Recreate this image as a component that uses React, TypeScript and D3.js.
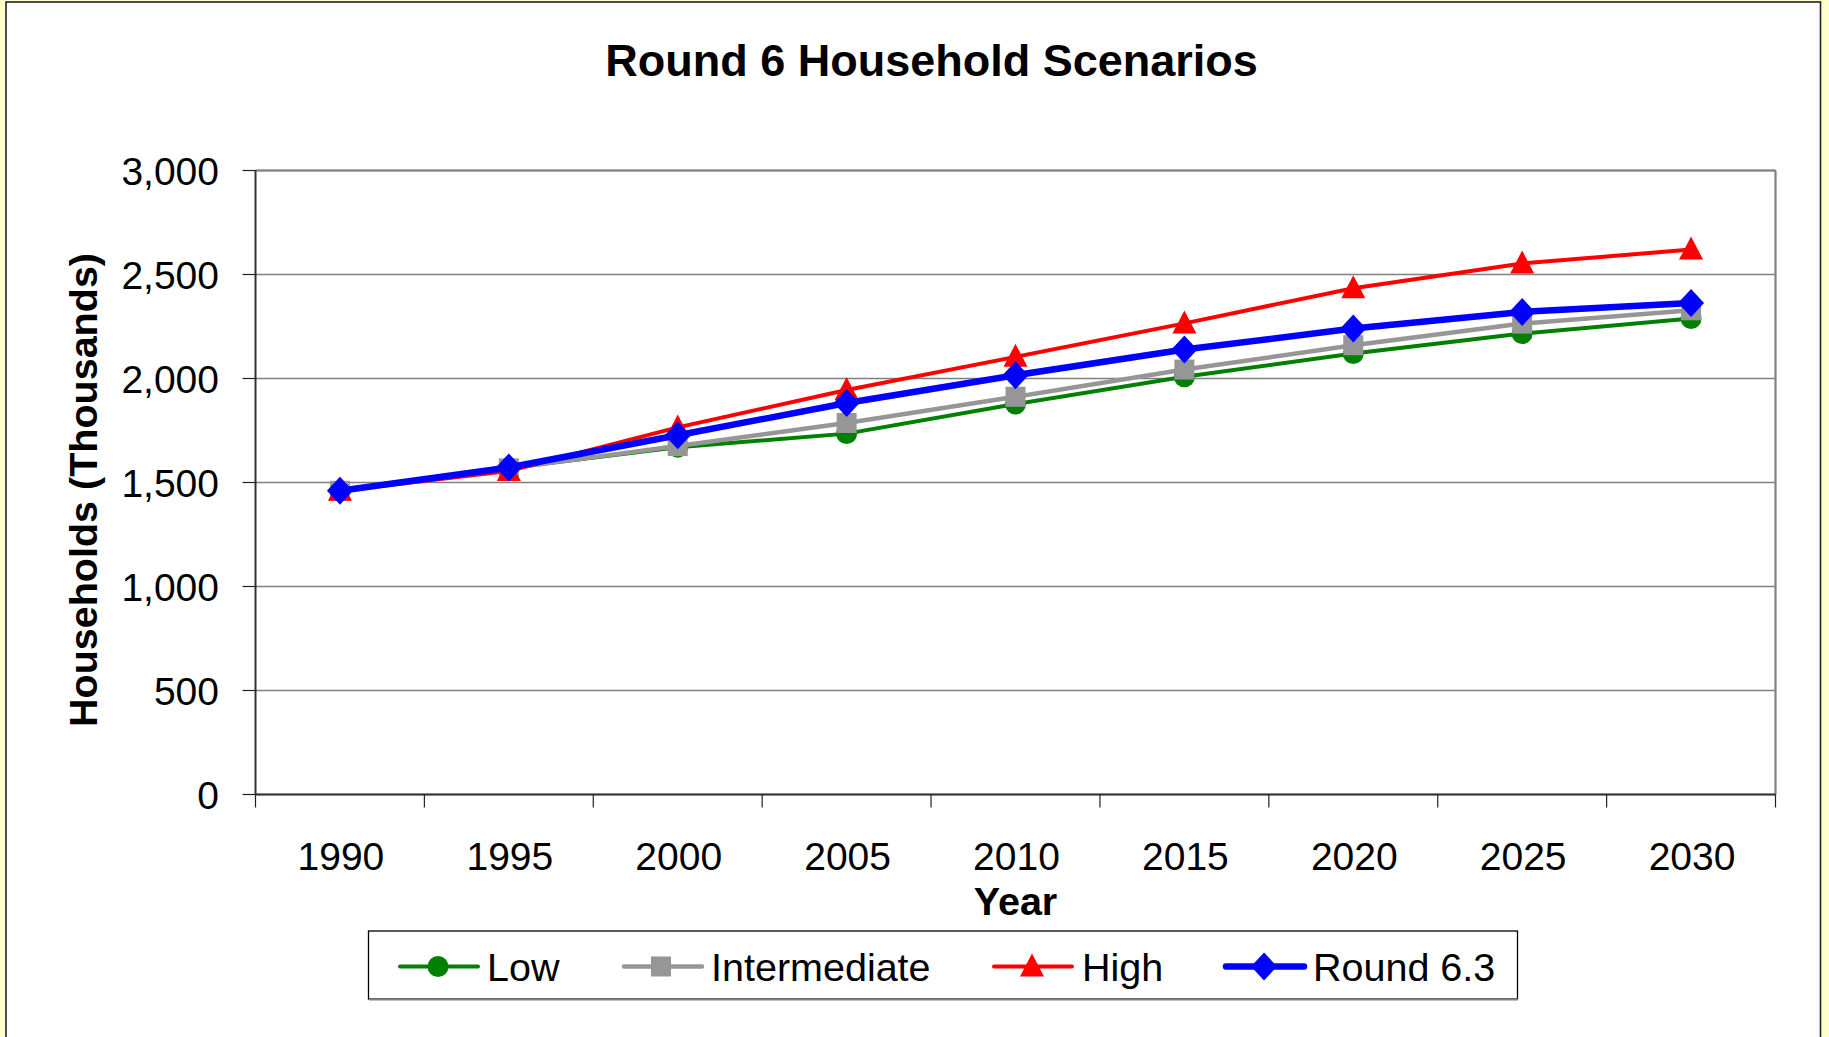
import React from "react";
import * as d3 from "d3";

const years = ["1990", "1995", "2000", "2005", "2010", "2015", "2020", "2025", "2030"];
const lowValues = [1460, 1570, 1670, 1735, 1877, 2008, 2120, 2216, 2288];
const intermediateValues = [1460, 1568, 1675, 1786, 1912, 2043, 2160, 2264, 2328];
const highValues = [1460, 1555, 1765, 1945, 2104, 2265, 2434, 2553, 2620];
const round63Values = [1460, 1572, 1727, 1882, 2016, 2139, 2240, 2320, 2363];
const yTicks = [0, 500, 1000, 1500, 2000, 2500, 3000];
const seriesNames = ["Low", "Intermediate", "High", "Round 6.3"];

const W = 1829;
const H = 1037;
const FONT = "'Liberation Sans', Arial, Helvetica, sans-serif";

type Shape = "circle" | "square" | "triangle" | "diamond";

const seriesStyle: { color: string; width: number; shape: Shape }[] = [
  { color: "#008000", width: 4, shape: "circle" },
  { color: "#969696", width: 4.5, shape: "square" },
  { color: "#FF0000", width: 4, shape: "triangle" },
  { color: "#0000FF", width: 6.5, shape: "diamond" },
];

function Marker({ x, y, shape, color }: { x: number; y: number; shape: Shape; color: string }) {
  if (shape === "circle") return <circle cx={x} cy={y} r={10.5} fill={color} />;
  if (shape === "square") return <rect x={x - 10} y={y - 10} width={20} height={20} fill={color} />;
  if (shape === "triangle")
    return <polygon points={`${x},${y - 13} ${x + 12},${y + 10} ${x - 12},${y + 10}`} fill={color} />;
  return <polygon points={`${x},${y - 14} ${x + 13},${y} ${x},${y + 14} ${x - 13},${y}`} fill={color} />;
}

export default function App() {
  const left = 255.5;
  const right = 1775.5;
  const top = 170.5;
  const bottom = 794.5;

  const x = d3.scaleBand<string>().domain(years).range([left, right]).paddingInner(0).paddingOuter(0);
  const y = d3.scaleLinear().domain([0, 3000]).range([bottom, top]);

  const allSeries = [lowValues, intermediateValues, highValues, round63Values];
  const line = d3
    .line<number>()
    .x((_, i) => (x(years[i]) as number) + x.bandwidth() / 2)
    .y((d) => y(d));

  const tickXs = years.map((yr) => x(yr) as number).concat([right]);

  const legendItems = [
    { lineX0: 400, lineX1: 478, mx: 438, tx: 487 },
    { lineX0: 624, lineX1: 702, mx: 661, tx: 711 },
    { lineX0: 994, lineX1: 1072, mx: 1032, tx: 1082 },
    { lineX0: 1226, lineX1: 1304, mx: 1264, tx: 1313 },
  ];
  const legendY = 966.5;

  return (
    <svg
      width={W}
      height={H}
      style={{ position: "absolute", left: 0, top: 0, display: "block" }}
      fontFamily={FONT}
    >
      <rect x={0} y={0} width={W} height={H} fill="#FFFFCC" />
      <rect x={6} y={2} width={1814.5} height={H + 20} fill="#FFFFFF" stroke="#222" strokeWidth={1.6} />

      {/* title */}
      <text x={931.5} y={76} textAnchor="middle" fontSize={45} fontWeight="bold" fill="#000">
        Round 6 Household Scenarios
      </text>

      {/* gridlines */}
      {yTicks.map((t) => (
        <line key={"g" + t} x1={left} x2={right} y1={y(t)} y2={y(t)} stroke="#808080" strokeWidth={1.5} />
      ))}
      {/* plot border top/right */}
      <line x1={left} x2={right} y1={top} y2={top} stroke="#808080" strokeWidth={2.2} />
      <line x1={right} x2={right} y1={top} y2={bottom} stroke="#808080" strokeWidth={2.2} />

      {/* axes */}
      <line x1={left} x2={left} y1={top} y2={bottom} stroke="#333" strokeWidth={2} />
      <line x1={left} x2={right} y1={bottom} y2={bottom} stroke="#333" strokeWidth={2} />
      {yTicks.map((t) => (
        <line key={"yt" + t} x1={left - 13} x2={left} y1={y(t)} y2={y(t)} stroke="#222" strokeWidth={1.2} />
      ))}
      {tickXs.map((tx, i) => (
        <line key={"xt" + i} x1={tx} x2={tx} y1={bottom} y2={bottom + 13} stroke="#222" strokeWidth={1.2} />
      ))}

      {/* y tick labels */}
      {yTicks.map((t) => (
        <text key={"yl" + t} x={219} y={y(t)} dy="0.36em" textAnchor="end" fontSize={39} fill="#000">
          {d3.format(",")(t)}
        </text>
      ))}
      {/* x tick labels */}
      {years.map((yr) => (
        <text
          key={"xl" + yr}
          x={(x(yr) as number) + x.bandwidth() / 2 + 1}
          y={870}
          textAnchor="middle"
          fontSize={39}
          fill="#000"
        >
          {yr}
        </text>
      ))}

      {/* axis titles */}
      <text x={1015.5} y={915} textAnchor="middle" fontSize={39.5} fontWeight="bold" fill="#000">
        Year
      </text>
      <text
        transform="translate(97,490) rotate(-90)"
        textAnchor="middle"
        fontSize={39.5}
        fontWeight="bold"
        fill="#000"
      >
        Households (Thousands)
      </text>

      {/* series */}
      {allSeries.map((vals, si) => (
        <g key={"s" + si}>
          <path
            d={line(vals) as string}
            fill="none"
            stroke={seriesStyle[si].color}
            strokeWidth={seriesStyle[si].width}
            strokeLinejoin="round"
          />
          {vals.map((v, i) => (
            <Marker
              key={i}
              x={(x(years[i]) as number) + x.bandwidth() / 2}
              y={y(v)}
              shape={seriesStyle[si].shape}
              color={seriesStyle[si].color}
            />
          ))}
        </g>
      ))}

      {/* legend */}
      <rect x={368.5} y={931} width={1149} height={68} fill="#FFFFFF" stroke="#000" strokeWidth={1.3} />
      <line x1={369} x2={1518} y1={999.5} y2={999.5} stroke="#808080" strokeWidth={2} />
      {legendItems.map((it, i) => (
        <g key={"lg" + i}>
          <line
            x1={it.lineX0}
            x2={it.lineX1}
            y1={legendY}
            y2={legendY}
            stroke={seriesStyle[i].color}
            strokeWidth={seriesStyle[i].width}
            strokeLinecap="round"
          />
          <Marker x={it.mx} y={legendY} shape={seriesStyle[i].shape} color={seriesStyle[i].color} />
          <text x={it.tx} y={981} fontSize={39.5} fill="#000">
            {seriesNames[i]}
          </text>
        </g>
      ))}
    </svg>
  );
}
